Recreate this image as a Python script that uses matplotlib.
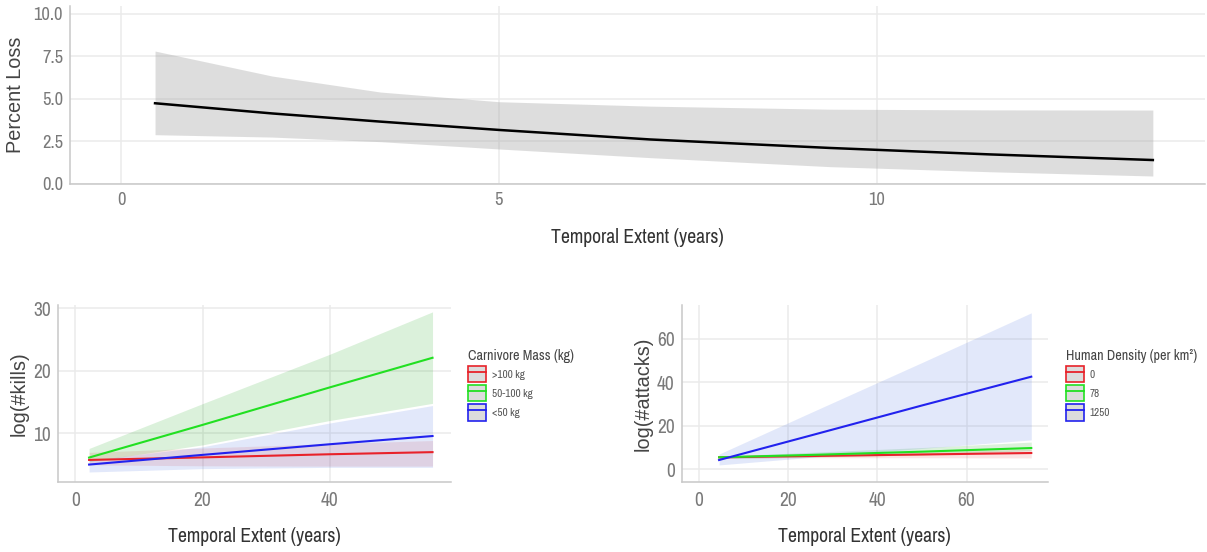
import matplotlib
matplotlib.use('Agg')
import matplotlib.pyplot as plt
from matplotlib import font_manager
from matplotlib.patches import Patch
from matplotlib.lines import Line2D

# condensed face for horizontal text if one is installed, otherwise a smaller Liberation Sans
installed = sorted({f.name for f in font_manager.fontManager.ttflist})
regular = 'Liberation Sans' if 'Liberation Sans' in installed else 'DejaVu Sans'
narrow, nscale = regular, 0.84
for name in installed:
    if 'Narrow' in name or 'Condensed' in name:
        narrow, nscale = name, 1.0
        break

# percent loss vs temporal extent
loss_x = [0.45, 2.0, 3.43, 5.0, 7.0, 9.38, 11.5, 13.65]
loss_fit = [4.75, 4.15, 3.67, 3.18, 2.62, 2.12, 1.74, 1.41]
loss_hi = [7.82, 6.35, 5.41, 4.84, 4.58, 4.40, 4.36, 4.35]
loss_lo = [2.90, 2.76, 2.49, 2.06, 1.55, 1.02, 0.72, 0.47]

# kills by carnivore mass
mass_labels = ['>100 kg', '50-100 kg', '<50 kg']
kills_x = [2.15, 20, 40, 56.2]
kills_big_fit = [5.69, 6.10, 6.60, 6.94]
kills_big_lo = [4.90, 4.75, 4.70, 4.70]
kills_big_hi = [6.90, 7.60, 8.30, 8.80]
kills_mid_fit = [6.07, 11.3, 17.3, 22.05]
kills_mid_lo = [5.40, 8.10, 12.0, 14.75]
kills_mid_hi = [7.53, 14.7, 22.6, 29.4]
kills_small_fit = [4.95, 6.50, 8.20, 9.52]
kills_small_lo = [3.76, 4.30, 4.50, 4.50]
kills_small_hi = [5.60, 7.80, 11.6, 14.4]

# attacks by human density
density_labels = ['0', '78', '1250']
att_x = [4.5, 25, 50, 74.5]
att_low_fit = [5.50, 6.10, 6.80, 7.48]
att_low_lo = [5.00, 5.30, 5.30, 5.20]
att_low_hi = [6.00, 6.90, 7.90, 9.20]
att_mid_fit = [5.50, 6.60, 8.10, 9.77]
att_mid_lo = [5.00, 5.60, 6.60, 8.60]
att_mid_hi = [6.00, 7.80, 10.0, 12.5]
att_high_fit = [4.27, 15.5, 29.3, 42.5]
att_high_lo = [2.00, 5.50, 9.60, 13.5]
att_high_hi = [7.00, 26.0, 49.0, 71.8]

line_cols = ['#e8222a', '#22e022', '#2222ee']
band_cols = [('#dc2828', 0.12), ('#00a000', 0.14), ('#4169e1', 0.15)]

grid_col = '#ebebeb'
spine_col = '#c8c8c8'
tick_col = '#7a7a7a'
title_col = '#333333'

W, H = 1207, 552
fig = plt.figure(figsize=(W / 100, H / 100), dpi=100)


def px_axes(left, top, right, bottom):
    return fig.add_axes([left / W, 1 - bottom / H, (right - left) / W, (bottom - top) / H])


def style(ax, xlabel, ylabel, ylab_x, tick_size, ypad, xpad):
    ax.set_facecolor('white')
    for s in ['top', 'right']:
        ax.spines[s].set_visible(False)
    for s in ['left', 'bottom']:
        ax.spines[s].set_color(spine_col)
        ax.spines[s].set_linewidth(1.1)
    ax.grid(True, color=grid_col, linewidth=1.1)
    ax.set_axisbelow(True)
    ax.tick_params(length=0, colors=tick_col, labelsize=tick_size * (nscale + 1) / 2)
    ax.tick_params(axis='x', pad=xpad)
    ax.tick_params(axis='y', pad=ypad)
    for lab in ax.get_xticklabels() + ax.get_yticklabels():
        lab.set_family(narrow)
    ax.set_xlabel(xlabel, family=narrow, fontsize=14.2 * nscale, color=title_col)
    ax.set_ylabel(ylabel, family=regular, fontsize=14.3, color='#444444')
    ax.yaxis.set_label_coords(ylab_x, 0.5)


# top panel
ax1 = px_axes(70, 6, 1205, 184)
ax1.fill_between(loss_x, loss_lo, loss_hi, color='#a0a0a0', alpha=0.35, linewidth=0)
ax1.plot(loss_x, loss_fit, color='black', linewidth=1.8)
ax1.set_xlim(-0.675, 14.34)
ax1.set_ylim(0, 10.47)
ax1.set_xticks([0, 5, 10])
ax1.set_yticks([0, 2.5, 5, 7.5, 10])
ax1.yaxis.set_major_formatter(matplotlib.ticker.FormatStrFormatter('%.1f'))
style(ax1, 'Temporal Extent (years)', 'Percent Loss', -0.04, 13.3, 5, 6)
ax1.xaxis.set_label_coords(0.5, -0.25)


def legend_handles(labels):
    hs = []
    for c in line_cols:
        hs.append((Patch(facecolor='#dcdcdc', edgecolor=c, linewidth=1.2),
                   Line2D([], [], color=c, linewidth=1.3)))
    return hs


def add_legend(ax, labels, title, x, y):
    fs = 8 * nscale
    leg = ax.legend(legend_handles(labels), labels, title=title,
                    loc='upper left', bbox_to_anchor=(x / W, 1 - y / H),
                    bbox_transform=fig.transFigure, frameon=False,
                    borderpad=0, borderaxespad=0,
                    handlelength=13.0 / fs, handleheight=15.2 / fs,
                    handletextpad=4.0 / fs, labelspacing=2.0 / fs,
                    alignment='left',
                    prop={'family': narrow, 'size': fs},
                    title_fontproperties={'family': narrow, 'size': 10.2 * nscale})
    leg.get_title().set_color('#444444')
    for t in leg.get_texts():
        t.set_color('#555555')
    return leg


# kills panel
ax2 = px_axes(57.7, 305, 450.7, 482.3)
kill_series = [(kills_big_fit, kills_big_lo, kills_big_hi),
               (kills_mid_fit, kills_mid_lo, kills_mid_hi),
               (kills_small_fit, kills_small_lo, kills_small_hi)]
for (fit, lo, hi), (bc, ba) in zip(kill_series, band_cols):
    ax2.fill_between(kills_x, lo, hi, color=bc, alpha=ba, linewidth=0)
for (fit, lo, hi), lc in zip(kill_series, line_cols):
    ax2.plot(kills_x, fit, color=lc, linewidth=1.5)
ax2.set_xlim(-2.79, 59.06)
ax2.set_ylim(2.11, 30.5)
ax2.set_xticks([0, 20, 40])
ax2.set_yticks([10, 20, 30])
style(ax2, 'Temporal Extent (years)', 'log(#kills)', -0.073, 14.0, 5, 6.5)
ax2.xaxis.set_label_coords(0.5, -0.25)
add_legend(ax2, mass_labels, 'Carnivore Mass (kg)', 468, 349)

# attacks panel
ax3 = px_axes(681.7, 305, 1048, 482.3)
att_series = [(att_low_fit, att_low_lo, att_low_hi),
              (att_mid_fit, att_mid_lo, att_mid_hi),
              (att_high_fit, att_high_lo, att_high_hi)]
for (fit, lo, hi), (bc, ba) in zip(att_series, band_cols):
    ax3.fill_between(att_x, lo, hi, color=bc, alpha=ba, linewidth=0)
for (fit, lo, hi), lc in zip(att_series, line_cols):
    ax3.plot(att_x, fit, color=lc, linewidth=1.5)
ax3.set_xlim(-3.88, 78.25)
ax3.set_ylim(-5.96, 75.4)
ax3.set_xticks([0, 20, 40, 60])
ax3.set_yticks([0, 20, 40, 60])
style(ax3, 'Temporal Extent (years)', 'log(#attacks)', -0.08, 14.0, 5, 6.5)
ax3.xaxis.set_label_coords(0.5, -0.25)
add_legend(ax3, density_labels, 'Human Density (per km²)', 1066, 349)

fig.savefig('out.png', dpi=100)
